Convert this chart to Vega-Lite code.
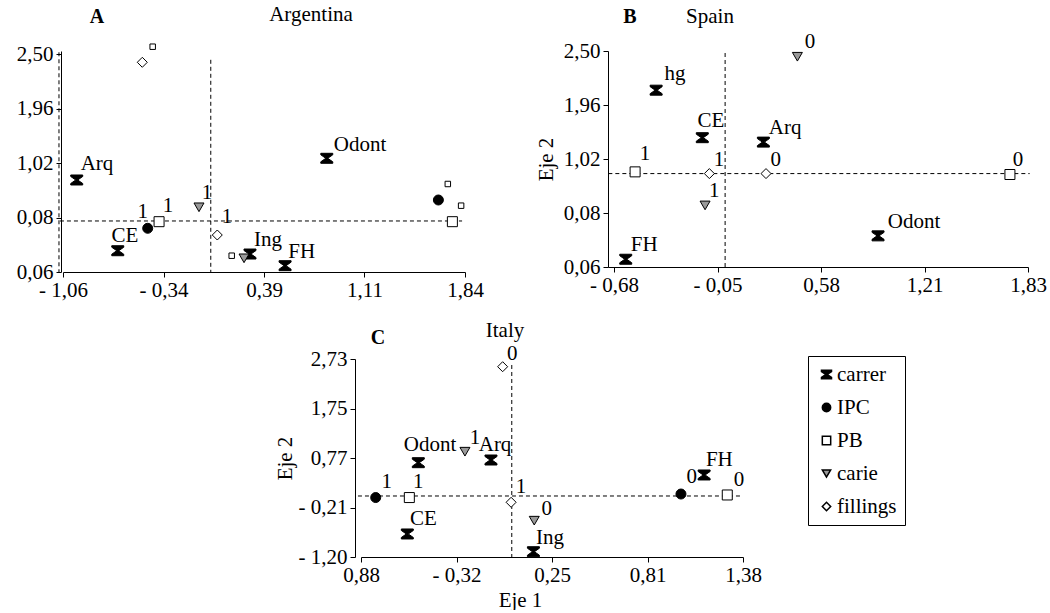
{
  "$schema": "https://vega.github.io/schema/vega-lite/v6.json",
  "padding": {"left": 16, "top": 4, "right": 0, "bottom": 0},
  "background": "white",
  "config": {
    "view": {"stroke": null},
    "font": "Liberation Serif, Times New Roman, DejaVu Serif, serif",
    "axis": {"grid": false, "domainColor": "black", "tickColor": "black", "labelColor": "black", "labelFont": "Liberation Serif, Times New Roman, DejaVu Serif, serif", "labelFontSize": 21, "titleFont": "Liberation Serif, Times New Roman, DejaVu Serif, serif", "titleFontSize": 21, "titleFontWeight": "normal", "titleColor": "black", "tickSize": 5, "labelPadding": 3, "labelFlush": false, "labelOverlap": false},
    "axisX": {"labelPadding": 2},
    "legend": {"labelFont": "Liberation Serif, Times New Roman, DejaVu Serif, serif", "labelFontSize": 21, "labelColor": "black"},
    "title": {"font": "Liberation Serif, Times New Roman, DejaVu Serif, serif", "fontSize": 21, "fontWeight": "normal", "color": "black", "anchor": "middle", "frame": "group"},
    "text": {"font": "Liberation Serif, Times New Roman, DejaVu Serif, serif", "fontSize": 21, "color": "black", "align": "center", "baseline": "middle"}
  },
  "datasets": {
    "points": [
      {"panel": "A", "group": "carrer", "x": -0.961, "y": 0.727},
      {"panel": "A", "group": "carrer", "x": -0.665, "y": -0.493},
      {"panel": "A", "group": "carrer", "x": 0.289, "y": -0.55},
      {"panel": "A", "group": "carrer", "x": 0.542, "y": -0.751},
      {"panel": "A", "group": "carrer", "x": 0.843, "y": 1.101},
      {"panel": "A", "group": "IPC", "x": -0.449, "y": -0.106},
      {"panel": "A", "group": "IPC", "x": 1.648, "y": 0.382},
      {"panel": "A", "group": "PB", "x": -0.367, "y": 0.008},
      {"panel": "A", "group": "PB", "x": 1.749, "y": 0.008},
      {"panel": "A", "group": "carie", "x": -0.079, "y": 0.256},
      {"panel": "A", "group": "carie", "x": 0.246, "y": -0.624},
      {"panel": "A", "group": "fillings", "x": 0.053, "y": -0.222},
      {"panel": "A", "group": "fillings", "x": -0.488, "y": 2.757},
      {"panel": "B", "group": "carrer", "x": -0.424, "y": 2.218},
      {"panel": "B", "group": "carrer", "x": -0.143, "y": 1.391},
      {"panel": "B", "group": "carrer", "x": 0.229, "y": 1.314},
      {"panel": "B", "group": "carrer", "x": -0.609, "y": -0.725},
      {"panel": "B", "group": "carrer", "x": 0.927, "y": -0.318},
      {"panel": "B", "group": "PB", "x": -0.552, "y": 0.796},
      {"panel": "B", "group": "PB", "x": 1.73, "y": 0.75},
      {"panel": "B", "group": "fillings", "x": -0.1, "y": 0.766},
      {"panel": "B", "group": "fillings", "x": 0.245, "y": 0.766},
      {"panel": "B", "group": "carie", "x": 0.436, "y": 2.8},
      {"panel": "B", "group": "carie", "x": -0.126, "y": 0.212},
      {"panel": "C", "group": "carrer", "x": -0.541, "y": 0.672},
      {"panel": "C", "group": "carrer", "x": -0.111, "y": 0.725},
      {"panel": "C", "group": "carrer", "x": -0.606, "y": -0.743},
      {"panel": "C", "group": "carrer", "x": 0.14, "y": -1.095},
      {"panel": "C", "group": "carrer", "x": 1.15, "y": 0.428},
      {"panel": "C", "group": "IPC", "x": -0.793, "y": -0.02},
      {"panel": "C", "group": "IPC", "x": 1.013, "y": 0.05},
      {"panel": "C", "group": "PB", "x": -0.594, "y": -0.02},
      {"panel": "C", "group": "PB", "x": 1.287, "y": 0.031},
      {"panel": "C", "group": "carie", "x": -0.265, "y": 0.89},
      {"panel": "C", "group": "carie", "x": 0.145, "y": -0.479},
      {"panel": "C", "group": "fillings", "x": -0.042, "y": 2.577},
      {"panel": "C", "group": "fillings", "x": 0.008, "y": -0.114}
    ],
    "minor": [
      {"panel": "A", "x": -0.413, "y": 3.026},
      {"panel": "A", "x": 0.157, "y": -0.579},
      {"panel": "A", "x": 1.716, "y": 0.658},
      {"panel": "A", "x": 1.812, "y": 0.284}
    ],
    "labels": [
      {"panel": "A", "text": "Arq", "x": -0.815, "y": 1.003},
      {"panel": "A", "text": "CE", "x": -0.613, "y": -0.239},
      {"panel": "A", "text": "1", "x": -0.485, "y": 0.175},
      {"panel": "A", "text": "1", "x": -0.302, "y": 0.278},
      {"panel": "A", "text": "1", "x": -0.021, "y": 0.503},
      {"panel": "A", "text": "1", "x": 0.123, "y": 0.089},
      {"panel": "A", "text": "Ing", "x": 0.419, "y": -0.303},
      {"panel": "A", "text": "FH", "x": 0.662, "y": -0.51},
      {"panel": "A", "text": "Odont", "x": 1.083, "y": 1.336},
      {"panel": "B", "text": "hg", "x": -0.309, "y": 2.498},
      {"panel": "B", "text": "CE", "x": -0.091, "y": 1.681},
      {"panel": "B", "text": "Arq", "x": 0.361, "y": 1.566},
      {"panel": "B", "text": "0", "x": 0.513, "y": 3.052},
      {"panel": "B", "text": "1", "x": -0.491, "y": 1.111},
      {"panel": "B", "text": "1", "x": -0.041, "y": 0.999},
      {"panel": "B", "text": "0", "x": 0.304, "y": 0.999},
      {"panel": "B", "text": "1", "x": -0.07, "y": 0.457},
      {"panel": "B", "text": "FH", "x": -0.497, "y": -0.475},
      {"panel": "B", "text": "Odont", "x": 1.146, "y": -0.073},
      {"panel": "B", "text": "0", "x": 1.779, "y": 1.011},
      {"panel": "C", "text": "0", "x": 0.015, "y": 2.82},
      {"panel": "C", "text": "1", "x": -0.205, "y": 1.168},
      {"panel": "C", "text": "Odont", "x": -0.472, "y": 1.023},
      {"panel": "C", "text": "Arq", "x": -0.087, "y": 1.023},
      {"panel": "C", "text": "1", "x": -0.728, "y": 0.295},
      {"panel": "C", "text": "1", "x": -0.541, "y": 0.295},
      {"panel": "C", "text": "1", "x": 0.067, "y": 0.195},
      {"panel": "C", "text": "0", "x": 0.219, "y": -0.253},
      {"panel": "C", "text": "CE", "x": -0.511, "y": -0.452},
      {"panel": "C", "text": "Ing", "x": 0.238, "y": -0.829},
      {"panel": "C", "text": "0", "x": 1.077, "y": 0.394},
      {"panel": "C", "text": "FH", "x": 1.24, "y": 0.725},
      {"panel": "C", "text": "0", "x": 1.357, "y": 0.328}
    ],
    "letters": [
      {"panel": "A", "text": "A", "x": -0.815, "y": 3.538},
      {"panel": "B", "text": "B", "x": -0.583, "y": 3.495},
      {"panel": "C", "text": "C", "x": -0.779, "y": 3.147}
    ],
    "rules": [
      {"panel": "A", "x": -1.082, "x2": 1.819, "y": 0.02, "y2": 0.02},
      {"panel": "A", "x": 0.006, "x2": 0.006, "y": 2.8, "y2": -0.86},
      {"panel": "A", "x": -1.089, "x2": -1.089, "y": 2.93, "y2": -0.86},
      {"panel": "B", "x": -0.715, "x2": 1.85, "y": 0.766, "y2": 0.766},
      {"panel": "B", "x": -0.004, "x2": -0.004, "y": 2.865, "y2": -0.86},
      {"panel": "C", "x": -0.898, "x2": 1.373, "y": 0.011, "y2": 0.011},
      {"panel": "C", "x": 0.012, "x2": 0.012, "y": 2.611, "y2": -1.2}
    ]
  },
  "resolve": {"scale": {"shape": "independent", "fill": "independent"}, "legend": {"shape": "independent", "fill": "independent"}},
  "spacing": 19,
  "vconcat": [
    {
      "spacing": 51,
      "resolve": {"scale": {"shape": "independent", "fill": "independent"}, "legend": {"shape": "independent", "fill": "independent"}},
      "hconcat": [
        {
          "width": 402, "height": 221,
          "title": {"text": "Argentina", "dx": 47, "offset": -18},
          "encoding": {
            "x": {"field": "x", "type": "quantitative", "title": null, "scale": {"domain": [-1.06, 1.84], "nice": false, "zero": false}, "axis": {"values": [-1.06, -0.335, 0.39, 1.115, 1.84], "labelExpr": "datum.value < -1 ? '- 1,06' : datum.value < 0 ? '- 0,34' : datum.value < 1 ? '0,39' : datum.value < 1.5 ? '1,11' : '1,84'"}},
            "y": {"field": "y", "type": "quantitative", "title": null, "scale": {"domain": [-0.86, 2.952], "nice": false, "zero": false}, "axis": {"offset": 2, "values": [-0.86, 0.08, 1.02, 1.96, 2.9], "labelExpr": "datum.value < 0 ? '0,06' : datum.value < 0.5 ? '0,08' : datum.value < 1.5 ? '1,02' : datum.value < 2.5 ? '1,96' : '2,50'"}}
          },
          "layer": [
            {"data": {"name": "rules"}, "transform": [{"filter": "datum.panel === 'A'"}], "mark": {"type": "rule", "strokeDash": [4, 3], "color": "black", "strokeWidth": 1}, "encoding": {"x2": {"field": "x2"}, "y2": {"field": "y2"}}},
            {"data": {"name": "minor"}, "transform": [{"filter": "datum.panel === 'A'"}], "mark": {"type": "point", "shape": "square", "filled": true, "fill": "white", "stroke": "black", "strokeWidth": 1, "size": 30, "opacity": 1}},
            {"data": {"name": "points"}, "transform": [{"filter": "datum.panel === 'A'"}], "mark": {"type": "point", "filled": true, "stroke": "black", "strokeWidth": 1, "size": 100, "opacity": 1},
              "encoding": {
                "shape": {"field": "group", "type": "nominal", "legend": null, "scale": {"domain": ["carrer", "IPC", "PB", "carie", "fillings"], "range": ["M-1.2,-1H1.2V-0.7L0.2,0L1.2,0.7V1H-1.2V0.7L-0.2,0L-1.2,-0.7Z", "circle", "square", "triangle-down", "diamond"]}},
                "fill": {"field": "group", "type": "nominal", "legend": null, "scale": {"domain": ["carrer", "IPC", "PB", "carie", "fillings"], "range": ["black", "black", "white", "#999999", "white"]}}
              }},
            {"data": {"name": "labels"}, "transform": [{"filter": "datum.panel === 'A'"}], "mark": {"type": "text"}, "encoding": {"text": {"field": "text"}}},
            {"data": {"name": "letters"}, "transform": [{"filter": "datum.panel === 'A'"}], "mark": {"type": "text", "fontWeight": "bold", "fontSize": 20}, "encoding": {"text": {"field": "text"}}}
          ]
        },
        {
          "width": 420, "height": 216,
          "title": {"text": "Spain", "dx": -108, "offset": -20},
          "encoding": {
            "x": {"field": "x", "type": "quantitative", "title": null, "scale": {"domain": [-0.717, 1.84], "nice": false, "zero": false}, "axis": {"values": [-0.68, -0.05, 0.58, 1.21, 1.84], "labelExpr": "datum.value < -0.5 ? '- 0,68' : datum.value < 0 ? '- 0,05' : datum.value < 1 ? '0,58' : datum.value < 1.5 ? '1,21' : '1,83'"}},
            "y": {"field": "y", "type": "quantitative", "title": "Eje 2", "scale": {"domain": [-0.86, 2.9], "nice": false, "zero": false}, "axis": {"titlePadding": 7, "values": [-0.86, 0.08, 1.02, 1.96, 2.9], "labelExpr": "datum.value < 0 ? '0,06' : datum.value < 0.5 ? '0,08' : datum.value < 1.5 ? '1,02' : datum.value < 2.5 ? '1,96' : '2,50'"}}
          },
          "layer": [
            {"data": {"name": "rules"}, "transform": [{"filter": "datum.panel === 'B'"}], "mark": {"type": "rule", "strokeDash": [4, 3], "color": "black", "strokeWidth": 1}, "encoding": {"x2": {"field": "x2"}, "y2": {"field": "y2"}}},
            {"data": {"name": "points"}, "transform": [{"filter": "datum.panel === 'B'"}], "mark": {"type": "point", "filled": true, "stroke": "black", "strokeWidth": 1, "size": 100, "opacity": 1},
              "encoding": {
                "shape": {"field": "group", "type": "nominal", "legend": null, "scale": {"domain": ["carrer", "IPC", "PB", "carie", "fillings"], "range": ["M-1.2,-1H1.2V-0.7L0.2,0L1.2,0.7V1H-1.2V0.7L-0.2,0L-1.2,-0.7Z", "circle", "square", "triangle-down", "diamond"]}},
                "fill": {"field": "group", "type": "nominal", "legend": null, "scale": {"domain": ["carrer", "IPC", "PB", "carie", "fillings"], "range": ["black", "black", "white", "#999999", "white"]}}
              }},
            {"data": {"name": "labels"}, "transform": [{"filter": "datum.panel === 'B'"}], "mark": {"type": "text"}, "encoding": {"text": {"field": "text"}}},
            {"data": {"name": "letters"}, "transform": [{"filter": "datum.panel === 'B'"}], "mark": {"type": "text", "fontWeight": "bold", "fontSize": 20}, "encoding": {"text": {"field": "text"}}}
          ]
        }
      ]
    },
    {
      "spacing": 0,
      "resolve": {"scale": {"shape": "independent", "fill": "independent"}, "legend": {"shape": "independent", "fill": "independent"}},
      "hconcat": [
        {"width": 211, "height": 10, "data": {"values": [{}]}, "mark": {"type": "text"}, "encoding": {"text": {"value": ""}}},
        {
          "width": 382, "height": 198,
          "title": {"text": "Italy", "dx": -47, "offset": -13},
          "encoding": {
            "x": {"field": "x", "type": "quantitative", "title": "Eje 1", "scale": {"domain": [-0.88, 1.38], "nice": false, "zero": false}, "axis": {"titleX": 159, "titlePadding": 4, "values": [-0.88, -0.315, 0.25, 0.815, 1.38], "labelExpr": "datum.value < -0.5 ? '0,88' : datum.value < 0 ? '- 0,32' : datum.value < 0.5 ? '0,25' : datum.value < 1 ? '0,81' : '1,38'"}},
            "y": {"field": "y", "type": "quantitative", "title": "Eje 2", "scale": {"domain": [-1.2, 2.73], "nice": false, "zero": false}, "axis": {"offset": 6, "titlePadding": 3, "values": [-1.2, -0.2175, 0.765, 1.7475, 2.73], "labelExpr": "datum.value < -1 ? '- 1,20' : datum.value < 0 ? '- 0,21' : datum.value < 1 ? '0,77' : datum.value < 2 ? '1,75' : '2,73'"}}
          },
          "layer": [
            {"data": {"name": "rules"}, "transform": [{"filter": "datum.panel === 'C'"}], "mark": {"type": "rule", "strokeDash": [4, 3], "color": "black", "strokeWidth": 1}, "encoding": {"x2": {"field": "x2"}, "y2": {"field": "y2"}}},
            {"data": {"name": "points"}, "transform": [{"filter": "datum.panel === 'C'"}], "mark": {"type": "point", "filled": true, "stroke": "black", "strokeWidth": 1, "size": 100, "opacity": 1},
              "encoding": {
                "shape": {"field": "group", "type": "nominal", "scale": {"domain": ["carrer", "IPC", "PB", "carie", "fillings"], "range": ["M-1.2,-1H1.2V-0.7L0.2,0L1.2,0.7V1H-1.2V0.7L-0.2,0L-1.2,-0.7Z", "circle", "square", "triangle-down", "diamond"]},
                  "legend": {"orient": "none", "legendX": 447, "legendY": -3, "title": null, "strokeColor": "black", "padding": 8, "rowPadding": 11, "labelFont": "Liberation Serif, Times New Roman, DejaVu Serif, serif", "labelFontSize": 21, "labelColor": "black", "labelOffset": 0, "symbolSize": 70, "symbolOpacity": 1, "encode": {"symbols": {"update": {"stroke": {"value": "black"}, "strokeWidth": {"value": 1}}}}}},
                "fill": {"field": "group", "type": "nominal", "scale": {"domain": ["carrer", "IPC", "PB", "carie", "fillings"], "range": ["black", "black", "white", "#999999", "white"]},
                  "legend": {"orient": "none", "legendX": 447, "legendY": -3, "title": null, "strokeColor": "black", "padding": 8, "rowPadding": 11, "labelFont": "Liberation Serif, Times New Roman, DejaVu Serif, serif", "labelFontSize": 21, "labelColor": "black", "labelOffset": 0, "symbolSize": 70, "symbolOpacity": 1, "encode": {"symbols": {"update": {"stroke": {"value": "black"}, "strokeWidth": {"value": 1}}}}}}
              }},
            {"data": {"name": "labels"}, "transform": [{"filter": "datum.panel === 'C'"}], "mark": {"type": "text"}, "encoding": {"text": {"field": "text"}}},
            {"data": {"name": "letters"}, "transform": [{"filter": "datum.panel === 'C'"}], "mark": {"type": "text", "fontWeight": "bold", "fontSize": 20}, "encoding": {"text": {"field": "text"}}}
          ]
        }
      ]
    }
  ]
}
